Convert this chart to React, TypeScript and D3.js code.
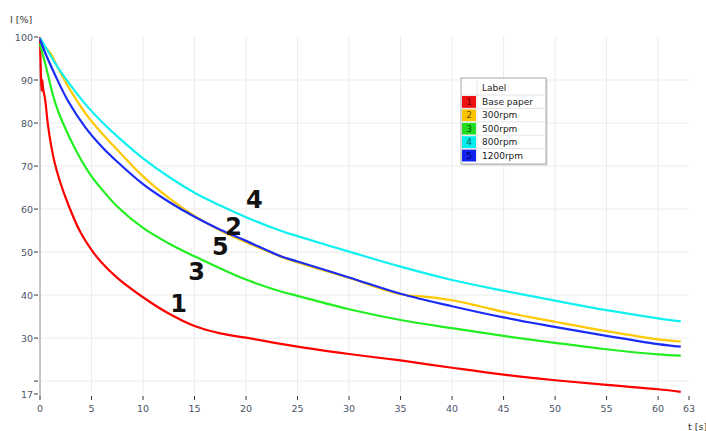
import React from "react";
import { scaleLinear, line, curveCatmullRom } from "d3";

// time [s] / intensity [%]
const basePaperT = [0, 0.08, 0.15, 0.22, 0.3, 0.5, 0.75, 1.1, 1.4, 1.9, 2.75, 3.9, 5, 6, 7.5, 10, 12.5, 15, 17.5, 20, 25, 30, 35, 40, 45, 50, 55, 60, 62.2];
const basePaperI = [100, 92, 87.5, 90, 88, 85.5, 80, 74.5, 71, 66.7, 61, 54.7, 50.5, 47.5, 44, 39.5, 35.7, 32.8, 31.1, 30.1, 28, 26.3, 24.8, 23.1, 21.5, 20.2, 19.1, 18.1, 17.5];

const rpm300T = [0, 0.3, 1, 1.8, 2.75, 4.4, 6, 7.5, 10, 12.5, 15, 17.5, 20, 23.3, 25, 30, 35, 37.5, 40, 42.7, 45, 50, 55, 60, 62.2];
const rpm300I = [99.5, 98.1, 96.3, 92.5, 88.4, 82.3, 77.6, 73.8, 67.6, 62.6, 58.4, 55, 52.3, 49.0, 47.6, 44, 40.2, 39.6, 38.8, 37.4, 36.1, 33.8, 31.6, 29.7, 29.2];

const rpm500T = [0, 0.2, 0.5, 1.5, 2.75, 4, 5, 6, 7.5, 10, 12.5, 15, 17.5, 20, 23.3, 25, 30, 35, 40, 45, 50, 55, 60, 62.2];
const rpm500I = [98.5, 96.5, 93.9, 84.5, 77.2, 71.4, 67.6, 64.6, 60.6, 55.6, 52.0, 49.0, 46.2, 43.6, 40.9, 39.8, 36.7, 34.2, 32.3, 30.5, 28.9, 27.4, 26.2, 25.9];

const rpm800T = [0, 0.3, 1.5, 2.4, 4.4, 6, 7.5, 10, 12.5, 15, 17.5, 20, 23.3, 25, 30, 35, 40, 45, 50, 55, 60, 62.2];
const rpm800I = [99.8, 98.6, 93.8, 90.6, 84.4, 80.3, 76.9, 71.8, 67.5, 63.8, 60.8, 58.1, 55, 53.7, 50.1, 46.6, 43.5, 41, 38.7, 36.5, 34.6, 33.9];

const rpm1200T = [0, 0.3, 1.5, 2.75, 4.4, 6, 7.5, 10, 12.5, 15, 17.5, 20, 23.3, 25, 30, 35, 40, 45, 50, 55, 60, 62.2];
const rpm1200I = [99.5, 97.5, 91, 85, 79, 74.5, 71, 65.8, 61.7, 58.2, 55.2, 52.6, 49.1, 47.8, 44.1, 40.3, 37.4, 34.8, 32.6, 30.5, 28.6, 28.0];

const seriesNames = ["Base paper", "300rpm", "500rpm", "800rpm", "1200rpm"];
const seriesColors = ["#ff0000", "#ffc800", "#22ee22", "#11f0f0", "#1a2cf5"];
const swatchColors = ["#ee1111", "#ffc400", "#22dd22", "#00eeee", "#1122ee"];
const swatchText = ["#660000", "#6a5200", "#0b550b", "#006060", "#000066"];

const xTicks = [0, 5, 10, 15, 20, 25, 30, 35, 40, 45, 50, 55, 60, 63];
const yTicks = [17, 20, 30, 40, 50, 60, 70, 80, 90, 100];
const yGrid = [20, 30, 40, 50, 60, 70, 80, 90];
const xGrid = [5, 10, 15, 20, 25, 30, 35, 40, 45, 50, 55, 60];

// curve numbers placed beside the lines
const markLabels = ["1", "3", "5", "2", "4"];
const markT = [13.45, 15.2, 17.5, 18.8, 20.8];
const markI = [36.0, 43.5, 49.3, 54.0, 60.2];

const W = 706;
const H = 431;
const FONT = "DejaVu Sans, Verdana, sans-serif";

export default function App() {
  const x = scaleLinear().domain([0, 63]).range([40, 689]);
  const y = scaleLinear().domain([17, 100]).range([394, 37]);

  const series = [
    { t: basePaperT, v: basePaperI },
    { t: rpm300T, v: rpm300I },
    { t: rpm500T, v: rpm500I },
    { t: rpm800T, v: rpm800I },
    { t: rpm1200T, v: rpm1200I },
  ];

  const pathFor = (s: { t: number[]; v: number[] }) =>
    line<number>()
      .x((_, i) => x(s.t[i]))
      .y((d) => y(d))
      .curve(curveCatmullRom.alpha(0.5))(s.v) || "";

  // legend box
  const lgX = 461;
  const lgY = 78;
  const lgW = 85;
  const headH = 17;
  const rowH = 13.4;
  const swW = 15;

  return (
    <svg
      width={W}
      height={H}
      style={{ position: "absolute", left: 0, top: 0, background: "#fff" }}
      fontFamily={FONT}
    >
      {/* grid */}
      {xGrid.map((t) => (
        <line key={"gx" + t} x1={x(t)} x2={x(t)} y1={y(100)} y2={y(17)} stroke="#ececec" strokeWidth={1} />
      ))}
      {yGrid.map((v) => (
        <line key={"gy" + v} x1={x(0)} x2={x(63)} y1={y(v)} y2={y(v)} stroke="#ececec" strokeWidth={1} />
      ))}

      {/* y axis */}
      <line x1={x(0)} x2={x(0)} y1={y(100)} y2={y(17) + 3} stroke="#888" strokeWidth={1} />
      {yTicks.map((v) => (
        <g key={"yt" + v}>
          <line x1={x(0) - 6} x2={x(0) - 2} y1={y(v)} y2={y(v)} stroke="#333" strokeWidth={1} />
          {v !== 20 && (
            <text x={x(0) - 7} y={y(v) + 3.5} textAnchor="end" fontSize={9.5} fill="#4b5468">
              {v}
            </text>
          )}
        </g>
      ))}
      <text x={10} y={23} fontSize={9.5} fill="#333">I [%]</text>

      {/* x axis ticks */}
      {xTicks.map((t) => (
        <g key={"xt" + t}>
          <line x1={x(t)} x2={x(t)} y1={y(17) + 2} y2={y(17) + 6} stroke="#333" strokeWidth={1} />
          <text x={x(t)} y={y(17) + 18} textAnchor="middle" fontSize={9.5} fill="#4b5468">
            {t}
          </text>
        </g>
      ))}
      <text x={688} y={430} fontSize={9.5} fill="#333">t [s]</text>

      {/* curves */}
      {series.map((s, i) => (
        <path key={"s" + i} d={pathFor(s)} fill="none" stroke={seriesColors[i]} strokeWidth={2.2} strokeLinejoin="round" />
      ))}

      {/* curve numbers */}
      {markLabels.map((m, i) => (
        <text key={"m" + i} x={x(markT[i])} y={y(markI[i])} textAnchor="middle" fontSize={24} fontWeight="bold" fill="#111">
          {m}
        </text>
      ))}

      {/* legend */}
      <rect x={lgX + 1.5} y={lgY + 1.5} width={lgW} height={headH + rowH * 5 + 2} fill="#d8d8d8" />
      <rect x={lgX} y={lgY} width={lgW} height={headH + rowH * 5 + 2} fill="#fff" stroke="#a8a8a8" strokeWidth={1} />
      <line x1={lgX + swW + 1} x2={lgX + swW + 1} y1={lgY} y2={lgY + headH + rowH * 5 + 2} stroke="#e4e4e4" />
      <text x={lgX + swW + 6} y={lgY + 12.5} fontSize={9} fill="#222">Label</text>
      {seriesNames.map((name, i) => {
        const ry = lgY + headH + i * rowH;
        return (
          <g key={"lg" + i}>
            <line x1={lgX} x2={lgX + lgW} y1={ry} y2={ry} stroke="#e4e4e4" />
            <rect x={lgX + 1} y={ry + 1} width={swW - 1} height={rowH - 1.5} fill={swatchColors[i]} />
            <text x={lgX + 1 + (swW - 1) / 2} y={ry + 10} textAnchor="middle" fontSize={9} fill={swatchText[i]}>
              {i + 1}
            </text>
            <text x={lgX + swW + 6} y={ry + 10} fontSize={9} fill="#222">
              {name}
            </text>
          </g>
        );
      })}
    </svg>
  );
}
